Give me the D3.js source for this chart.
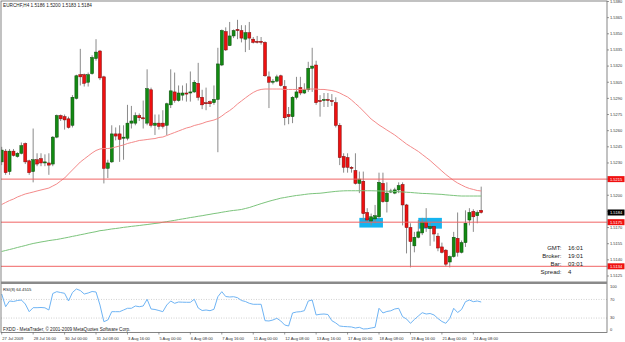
<!DOCTYPE html>
<html>
<head>
<meta charset="utf-8">
<script src="https://d3js.org/d3.v7.min.js"></script>
<style>
  html, body { margin: 0; padding: 0; background: #fff; }
  svg { display: block; font-family: "Liberation Sans", Arial, sans-serif; }
</style>
</head>
<body>
<svg id="chart" width="625" height="342"></svg>
<script>
// EURCHF H4 bars, first bar = 27 Jul 2009 08:00
const opens = [
  1.5231, 1.5241, 1.5222, 1.5241, 1.5236, 1.5239, 1.5248, 1.5232, 1.5222, 1.5233,
  1.5234, 1.5230, 1.5230, 1.5229, 1.5254, 1.5274, 1.5273, 1.5271, 1.5265, 1.5290,
  1.5312, 1.5312, 1.5305, 1.5313, 1.5327, 1.5334, 1.5310, 1.5225, 1.5231, 1.5257,
  1.5257, 1.5253, 1.5253, 1.5267, 1.5267, 1.5274, 1.5272, 1.5267, 1.5298, 1.5265,
  1.5267, 1.5267, 1.5265, 1.5284, 1.5296, 1.5288, 1.5293, 1.5295, 1.5295, 1.5296,
  1.5304, 1.5291, 1.5286, 1.5287, 1.5286, 1.5289, 1.5321, 1.5352, 1.5339, 1.5348,
  1.5354, 1.5353, 1.5345, 1.5351, 1.5345, 1.5343, 1.5343, 1.5342, 1.5310, 1.5305,
  1.5306, 1.5311, 1.5301, 1.5275, 1.5273, 1.5291, 1.5300, 1.5295, 1.5298, 1.5318,
  1.5321, 1.5288, 1.5288, 1.5289, 1.5288, 1.5286, 1.5265, 1.5236, 1.5235, 1.5226,
  1.5223, 1.5211, 1.5213, 1.5184, 1.5176, 1.5178, 1.5180, 1.5211, 1.5194, 1.5203,
  1.5202, 1.5205, 1.5210, 1.5191, 1.5170, 1.5153, 1.5161, 1.5165, 1.5175, 1.5169,
  1.5171, 1.5162, 1.5152, 1.5149, 1.5138, 1.5143, 1.5160, 1.5147, 1.5156, 1.5177,
  1.5185, 1.5181, 1.5186
];
const highs = [
  1.5245, 1.5243, 1.5243, 1.5243, 1.5240, 1.5249, 1.5249, 1.5233, 1.5262, 1.5239,
  1.5239, 1.5238, 1.5239, 1.5255, 1.5275, 1.5275, 1.5275, 1.5273, 1.5293, 1.5312,
  1.5336, 1.5313, 1.5314, 1.5330, 1.5345, 1.5335, 1.5311, 1.5233, 1.5265, 1.5263,
  1.5265, 1.5265, 1.5284, 1.5283, 1.5277, 1.5276, 1.5288, 1.5317, 1.5300, 1.5275,
  1.5275, 1.5279, 1.5286, 1.5317, 1.5314, 1.5302, 1.5302, 1.5304, 1.5315, 1.5307,
  1.5323, 1.5298, 1.5300, 1.5288, 1.5302, 1.5337, 1.5354, 1.5356, 1.5361, 1.5354,
  1.5363, 1.5358, 1.5358, 1.5361, 1.5347, 1.5348, 1.5347, 1.5343, 1.5315, 1.5308,
  1.5312, 1.5312, 1.5307, 1.5282, 1.5292, 1.5310, 1.5310, 1.5304, 1.5324, 1.5337,
  1.5325, 1.5293, 1.5295, 1.5295, 1.5294, 1.5291, 1.5267, 1.5239, 1.5239, 1.5227,
  1.5239, 1.5222, 1.5222, 1.5188, 1.5183, 1.5191, 1.5221, 1.5221, 1.5212, 1.5206,
  1.5207, 1.5212, 1.5212, 1.5192, 1.5174, 1.5166, 1.5177, 1.5179, 1.5188, 1.5175,
  1.5172, 1.5165, 1.5156, 1.5150, 1.5144, 1.5166, 1.5184, 1.5158, 1.5186, 1.5188,
  1.5187, 1.5186, 1.5208
];
const lows = [
  1.5228, 1.5219, 1.5219, 1.5236, 1.5235, 1.5238, 1.5229, 1.5219, 1.5212, 1.5227,
  1.5227, 1.5227, 1.5219, 1.5227, 1.5253, 1.5269, 1.5261, 1.5262, 1.5263, 1.5289,
  1.5302, 1.5301, 1.5301, 1.5312, 1.5325, 1.5307, 1.5211, 1.5216, 1.5230, 1.5251,
  1.5231, 1.5233, 1.5251, 1.5262, 1.5265, 1.5269, 1.5262, 1.5265, 1.5263, 1.5256,
  1.5261, 1.5262, 1.5256, 1.5281, 1.5286, 1.5287, 1.5288, 1.5287, 1.5287, 1.5295,
  1.5288, 1.5280, 1.5279, 1.5282, 1.5284, 1.5240, 1.5320, 1.5334, 1.5339, 1.5346,
  1.5345, 1.5342, 1.5333, 1.5335, 1.5341, 1.5341, 1.5340, 1.5310, 1.5281, 1.5303,
  1.5305, 1.5301, 1.5265, 1.5266, 1.5267, 1.5289, 1.5293, 1.5294, 1.5296, 1.5296,
  1.5284, 1.5273, 1.5282, 1.5282, 1.5283, 1.5263, 1.5228, 1.5221, 1.5221, 1.5221,
  1.5210, 1.5202, 1.5177, 1.5175, 1.5172, 1.5174, 1.5178, 1.5193, 1.5184, 1.5202,
  1.5201, 1.5202, 1.5172, 1.5146, 1.5133, 1.5147, 1.5160, 1.5163, 1.5166, 1.5153,
  1.5157, 1.5148, 1.5146, 1.5134, 1.5133, 1.5142, 1.5143, 1.5146, 1.5152, 1.5172,
  1.5166, 1.5174, 1.5183
];
const closes = [
  1.5242, 1.5221, 1.5241, 1.5237, 1.5239, 1.5246, 1.5231, 1.5221, 1.5233, 1.5229,
  1.5230, 1.5231, 1.5228, 1.5254, 1.5274, 1.5271, 1.5270, 1.5263, 1.5291, 1.5311,
  1.5310, 1.5304, 1.5312, 1.5328, 1.5333, 1.5309, 1.5225, 1.5230, 1.5257, 1.5255,
  1.5252, 1.5254, 1.5267, 1.5269, 1.5274, 1.5272, 1.5271, 1.5299, 1.5265, 1.5267,
  1.5264, 1.5264, 1.5285, 1.5297, 1.5288, 1.5295, 1.5295, 1.5294, 1.5296, 1.5305,
  1.5291, 1.5284, 1.5285, 1.5285, 1.5289, 1.5322, 1.5353, 1.5335, 1.5348, 1.5353,
  1.5353, 1.5346, 1.5351, 1.5346, 1.5342, 1.5342, 1.5342, 1.5311, 1.5305, 1.5306,
  1.5310, 1.5302, 1.5272, 1.5273, 1.5291, 1.5296, 1.5295, 1.5298, 1.5318, 1.5320,
  1.5286, 1.5287, 1.5289, 1.5288, 1.5287, 1.5265, 1.5235, 1.5226, 1.5226, 1.5225,
  1.5211, 1.5215, 1.5183, 1.5177, 1.5180, 1.5181, 1.5212, 1.5194, 1.5202, 1.5204,
  1.5205, 1.5209, 1.5191, 1.5170, 1.5157, 1.5161, 1.5166, 1.5175, 1.5170, 1.5171,
  1.5164, 1.5151, 1.5147, 1.5136, 1.5143, 1.5161, 1.5147, 1.5156, 1.5174, 1.5184,
  1.5180, 1.5184, 1.5184
];

// moving averages (red = faster, green = slower)
const maRed = [
  1.51914, 1.51933, 1.51951, 1.51965, 1.51984, 1.51998, 1.52012, 1.52021, 1.52030, 1.52040,
  1.52049, 1.52058, 1.52067, 1.52086, 1.52105, 1.52133, 1.52160, 1.52198, 1.52235, 1.52272,
  1.52309, 1.52337, 1.52365, 1.52393, 1.52416, 1.52430, 1.52434, 1.52434, 1.52439, 1.52448,
  1.52458, 1.52467, 1.52481, 1.52490, 1.52499, 1.52509, 1.52513, 1.52518, 1.52523, 1.52527,
  1.52537, 1.52541, 1.52555, 1.52569, 1.52583, 1.52597, 1.52611, 1.52625, 1.52634, 1.52648,
  1.52657, 1.52667, 1.52681, 1.52690, 1.52699, 1.52713, 1.52736, 1.52764, 1.52787, 1.52815,
  1.52848, 1.52876, 1.52904, 1.52931, 1.52955, 1.52973, 1.52983, 1.52987, 1.52987, 1.52987,
  1.52987, 1.52987, 1.52983, 1.52983, 1.52983, 1.52983, 1.52983, 1.52983, 1.52987, 1.52987,
  1.52987, 1.52983, 1.52983, 1.52978, 1.52973, 1.52964, 1.52950, 1.52931, 1.52913, 1.52885,
  1.52852, 1.52820, 1.52783, 1.52746, 1.52708, 1.52681, 1.52653, 1.52630, 1.52606, 1.52583,
  1.52560, 1.52532, 1.52504, 1.52476, 1.52453, 1.52430, 1.52407, 1.52379, 1.52351, 1.52323,
  1.52290, 1.52258, 1.52225, 1.52193, 1.52165, 1.52137, 1.52114, 1.52095, 1.52077, 1.52063,
  1.52054, 1.52044, 1.52040
];
const maGreen = [
  1.51478, 1.51487, 1.51496, 1.51505, 1.51515, 1.51524, 1.51533, 1.51543, 1.51552, 1.51559,
  1.51566, 1.51572, 1.51579, 1.51584, 1.51589, 1.51596, 1.51603, 1.51610, 1.51618, 1.51625,
  1.51633, 1.51640, 1.51648, 1.51655, 1.51662, 1.51671, 1.51675, 1.51681, 1.51687, 1.51691,
  1.51696, 1.51702, 1.51706, 1.51711, 1.51715, 1.51719, 1.51724, 1.51728, 1.51733, 1.51738,
  1.51742, 1.51749, 1.51755, 1.51761, 1.51767, 1.51774, 1.51780, 1.51786, 1.51793, 1.51798,
  1.51805, 1.51810, 1.51817, 1.51823, 1.51830, 1.51835, 1.51842, 1.51848, 1.51854, 1.51859,
  1.51863, 1.51868, 1.51877, 1.51886, 1.51898, 1.51910, 1.51922, 1.51933, 1.51944, 1.51954,
  1.51963, 1.51973, 1.51979, 1.51986, 1.51992, 1.51998, 1.52002, 1.52007, 1.52012, 1.52015,
  1.52017, 1.52019, 1.52023, 1.52028, 1.52032, 1.52036, 1.52039, 1.52041, 1.52042, 1.52042,
  1.52042, 1.52042, 1.52042, 1.52042, 1.52042, 1.52041, 1.52040, 1.52039, 1.52038, 1.52036,
  1.52035, 1.52033, 1.52031, 1.52028, 1.52026, 1.52023, 1.52020, 1.52017, 1.52016, 1.52014,
  1.52012, 1.52010, 1.52008, 1.52004, 1.52001, 1.51998, 1.51995, 1.51993, 1.51993, 1.51993,
  1.51993, 1.51993, 1.51993
];

// RSI(8)
const rsi = [
  81.7, 54.4, 66.7, 65.6, 67.7, 68.8, 60.2, 43.7, 52.3, 52.3,
  52.7, 52.0, 47.3, 82.8, 86.7, 84.9, 83.2, 66.7, 84.9, 92.5,
  89.2, 81.7, 83.9, 87.1, 86.0, 58.1, 22.2, 25.8, 43.7, 43.7,
  43.7, 47.3, 51.0, 51.0, 55.9, 54.4, 55.9, 70.3, 49.5, 48.4,
  46.2, 43.7, 58.1, 66.7, 61.7, 64.5, 64.1, 63.9, 63.9, 70.3,
  51.6, 46.2, 47.3, 45.8, 48.8, 75.9, 86.7, 76.3, 75.3, 75.9,
  73.8, 67.7, 65.6, 61.7, 59.6, 59.6, 59.6, 24.3, 23.7, 25.8,
  29.5, 23.7, 15.1, 12.9, 40.9, 43.0, 43.7, 45.8, 66.7, 68.8,
  36.6, 38.1, 38.7, 37.6, 24.3, 19.4, 12.9, 11.8, 11.4, 10.8,
  8.6, 10.1, 6.5, 6.9, 8.6, 10.1, 51.0, 40.9, 44.1, 45.6,
  49.5, 51.0, 32.9, 28.0, 18.7, 26.9, 34.4, 41.5, 38.7, 39.8,
  36.6, 29.0, 22.6, 18.7, 29.0, 51.0, 41.9, 48.4, 65.2, 68.8,
  65.2, 66.7, 64.45
];

const priceTicks = [1.5380, 1.5365, 1.5350, 1.5335, 1.5320, 1.5305, 1.5290, 1.5275, 1.5260,
  1.5245, 1.5230, 1.5215, 1.5200, 1.5185, 1.5170, 1.5155, 1.5140, 1.5125];
const rsiTicks = [100, 70, 30, 0];
const rsiLevels = [70, 30];

const timeLabels = ["27 Jul 2009", "28 Jul 16:00", "30 Jul 00:00", "31 Jul 08:00", "3 Aug 16:00",
  "5 Aug 00:00", "6 Aug 08:00", "7 Aug 16:00", "11 Aug 00:00", "12 Aug 08:00", "13 Aug 16:00",
  "17 Aug 00:00", "18 Aug 08:00", "19 Aug 16:00", "21 Aug 00:00", "24 Aug 08:00"];
const timeLabelBars = [0, 8, 16, 24, 32, 40, 48, 56, 64, 72, 80, 88, 96, 104, 112, 120];

// horizontal lines and rectangles drawn on the chart
const levelPrices = [1.5215, 1.5175, 1.5134];
const bidPrice = 1.5184;
const boxFrom = [91, 106];
const boxTo = [97, 112];
const boxTop = [1.5179, 1.5179];
const boxBottom = [1.5170, 1.5169];

const infoLabels = ["GMT:", "Broker:", "Bar:", "Spread:"];
const infoValues = ["16:01", "19:01", "03:01", "4"];

const svg = d3.select('#chart');
const paneL = 1, paneR = 607, paneT = 1, paneB = 282;
const rsiT = 284, rsiB = 332.5;

const x = d3.scaleLinear().domain([0, 122]).range([1.7, 481.2]);
const y = d3.scaleLinear().domain([1.5125, 1.5380]).range([276, 1.5]);
const yRsi = d3.scaleLinear().domain([0, 100]).range([332, 285.5]);

svg.append('rect').attr('width', 625).attr('height', 342).attr('fill', '#fff');

svg.append('clipPath').attr('id', 'mainClip')
  .append('rect').attr('x', paneL).attr('y', paneT).attr('width', paneR - paneL).attr('height', paneB - paneT);
const main = svg.append('g').attr('clip-path', 'url(#mainClip)');

// rectangles (background objects)
main.selectAll('rect.box').data(boxFrom).enter().append('rect')
  .attr('class', 'box')
  .attr('x', (d) => x(d))
  .attr('width', (d, i) => x(boxTo[i]) - x(d))
  .attr('y', (d, i) => y(boxTop[i]))
  .attr('height', (d, i) => y(boxBottom[i]) - y(boxTop[i]))
  .attr('fill', '#14b4f0');

// candles
const idx = d3.range(opens.length);
main.selectAll('line.wick').data(idx).enter().append('line')
  .attr('x1', (i) => x(i)).attr('x2', (i) => x(i))
  .attr('y1', (i) => y(highs[i])).attr('y2', (i) => y(lows[i]))
  .attr('stroke', '#8a8a8a').attr('stroke-width', 1);

main.selectAll('rect.body').data(idx).enter().append('rect')
  .attr('x', (i) => x(i) - 1.5)
  .attr('width', 3)
  .attr('y', (i) => y(Math.max(opens[i], closes[i])))
  .attr('height', (i) => Math.max(1, Math.abs(y(opens[i]) - y(closes[i]))))
  .attr('fill', (i) => closes[i] >= opens[i] ? '#128a12' : '#ee1010')
  .attr('stroke', (i) => closes[i] >= opens[i] ? '#0a4a0a' : '#7a0a0a')
  .attr('stroke-width', 0.5);

// moving averages
const maLine = (arr) => d3.line().x((d, i) => x(i)).y((d) => y(d))(arr);
main.append('path').attr('d', maLine(maRed)).attr('fill', 'none').attr('stroke', '#f48a8a').attr('stroke-width', 1);
main.append('path').attr('d', maLine(maGreen)).attr('fill', 'none').attr('stroke', '#7cc47c').attr('stroke-width', 1);

// horizontal lines
main.selectAll('line.level').data(levelPrices).enter().append('line')
  .attr('x1', paneL).attr('x2', paneR)
  .attr('y1', (d) => y(d)).attr('y2', (d) => y(d))
  .attr('stroke', '#f06464').attr('stroke-width', 1);

// title
svg.append('text').attr('x', 3).attr('y', 6.8)
  .attr('font-size', 4.7).attr('fill', '#222')
  .text('EURCHF,H4 1.5186 1.5200 1.5183 1.5184');

// info block
svg.selectAll('text.infoL').data(infoLabels).enter().append('text')
  .attr('x', 561.5).attr('y', (d, i) => 250 + i * 8.1)
  .attr('text-anchor', 'end').attr('font-size', 6).attr('fill', '#222').text((d) => d);
svg.selectAll('text.infoV').data(infoValues).enter().append('text')
  .attr('x', 568).attr('y', (d, i) => 250 + i * 8.1)
  .attr('font-size', 6).attr('fill', '#222').text((d) => d);

// price axis
svg.selectAll('line.ptick').data(priceTicks).enter().append('line')
  .attr('x1', paneR).attr('x2', paneR + 2)
  .attr('y1', (d) => y(d)).attr('y2', (d) => y(d))
  .attr('stroke', '#555').attr('stroke-width', 0.6);
svg.selectAll('text.plabel').data(priceTicks).enter().append('text')
  .attr('x', 610).attr('y', (d) => y(d) + 1.4)
  .attr('font-size', 4).attr('fill', '#333')
  .text((d) => d.toFixed(4));

const tags = levelPrices.map((p) => ({ p, bg: '#f01010' })).concat([{ p: bidPrice, bg: '#000' }]);
svg.selectAll('rect.tag').data(tags).enter().append('rect')
  .attr('x', 607.5).attr('width', 17).attr('y', (d) => y(d.p) - 3).attr('height', 6)
  .attr('fill', (d) => d.bg);
svg.selectAll('text.tag').data(tags).enter().append('text')
  .attr('x', 610).attr('y', (d) => y(d.p) + 1.4)
  .attr('font-size', 4).attr('fill', '#fff')
  .text((d) => d.p.toFixed(4));

// RSI pane
rsiLevels.forEach((v) => {
  svg.append('line').attr('x1', paneL).attr('x2', paneR)
    .attr('y1', yRsi(v)).attr('y2', yRsi(v))
    .attr('stroke', '#bdbdbd').attr('stroke-width', 0.7).attr('stroke-dasharray', '1,1.5');
});
svg.append('path')
  .attr('d', d3.line().x((d, i) => x(i)).y((d) => yRsi(d))(rsi))
  .attr('fill', 'none').attr('stroke', '#6fb4f4').attr('stroke-width', 1);
svg.selectAll('text.rlabel').data(rsiTicks).enter().append('text')
  .attr('x', 610).attr('y', (d) => Math.min(330, Math.max(287, yRsi(d))) + 1.4)
  .attr('font-size', 4).attr('fill', '#333').text((d) => d);
svg.append('text').attr('x', 3).attr('y', 290.5).attr('font-size', 4.2).attr('fill', '#222')
  .text('RSI(8) 64.4515');
svg.append('text').attr('x', 3).attr('y', 330.5).attr('font-size', 4.6).attr('fill', '#222')
  .text('FXDD - MetaTrader, \u00a9 2001-2009 MetaQuotes Software Corp.');

// frames
svg.append('rect').attr('x', paneL).attr('y', paneT).attr('width', paneR - paneL).attr('height', rsiB - paneT)
  .attr('fill', 'none').attr('stroke', '#666').attr('stroke-width', 0.8);
svg.append('rect').attr('x', paneL).attr('y', paneB - 0.5).attr('width', paneR - paneL).attr('height', 2.5)
  .attr('fill', '#8a8a8a');

// time axis
svg.selectAll('line.ttick').data(timeLabelBars).enter().append('line')
  .attr('x1', (d) => x(d)).attr('x2', (d) => x(d))
  .attr('y1', rsiB).attr('y2', rsiB + 2)
  .attr('stroke', '#555').attr('stroke-width', 0.6);
svg.selectAll('text.tlabel').data(timeLabels).enter().append('text')
  .attr('x', (d, i) => x(timeLabelBars[i]) + 0.5).attr('y', 339.5)
  .attr('font-size', 4.1).attr('fill', '#333').text((d) => d);
</script>
</body>
</html>
